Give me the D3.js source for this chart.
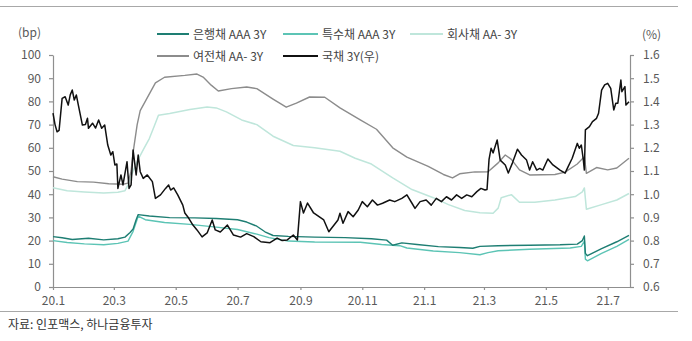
<!DOCTYPE html>
<html><head><meta charset="utf-8">
<script src="https://cdn.jsdelivr.net/npm/d3@7"></script>
<style>
html,body{margin:0;padding:0;background:#fff;}
svg text{font-family:"Noto Sans CJK KR","Noto Sans",sans-serif;}
</style></head>
<body><svg id="c" width="692" height="341"></svg>
<script>
// ---- data ----
const seriesNames = ["은행채 AAA 3Y","특수채 AAA 3Y","회사채 AA- 3Y","여전채 AA- 3Y","국채 3Y(우)"];
const seriesColors = ["#1e7e73","#5cc4b5","#bfe6db","#8c8c8c","#111111"];

const bankDates = ["2020-01-01","2020-01-10","2020-01-20","2020-02-05","2020-02-20","2020-03-05","2020-03-12","2020-03-17","2020-03-20","2020-03-23","2020-03-25","2020-04-05","2020-04-25","2020-05-20","2020-06-10","2020-07-01","2020-07-10","2020-07-20","2020-07-28","2020-08-05","2020-08-20","2020-09-15","2020-10-15","2020-11-10","2020-11-25","2020-12-01","2020-12-10","2020-12-25","2021-01-15","2021-02-05","2021-02-18","2021-02-25","2021-03-15","2021-04-15","2021-05-15","2021-06-01","2021-06-06","2021-06-08","2021-06-09","2021-06-11","2021-06-25","2021-07-10","2021-07-22"];
const bankValues = [21.7,21.2,20.5,21.0,20.3,20.8,21.5,23.5,25,29,31.2,30.6,29.9,29.8,29.5,29.0,28.0,26.2,23.8,22.2,21.8,21.5,21.3,20.8,20.2,18.0,19.0,18.3,17.4,17.0,16.7,17.5,17.8,18.0,18.2,18.5,20.0,22.0,14.5,13.5,16.5,19.5,22.2];

const specDates = ["2020-01-01","2020-01-15","2020-02-01","2020-02-20","2020-03-05","2020-03-15","2020-03-20","2020-03-25","2020-04-01","2020-04-20","2020-05-15","2020-06-10","2020-07-01","2020-07-20","2020-08-01","2020-08-20","2020-09-15","2020-10-30","2020-11-20","2020-12-08","2020-12-15","2021-01-10","2021-02-05","2021-02-25","2021-03-05","2021-03-15","2021-04-15","2021-05-25","2021-06-05","2021-06-08","2021-06-09","2021-06-11","2021-06-25","2021-07-10","2021-07-22"];
const specValues = [20.0,19.2,18.6,18.2,18.8,19.8,24,30.5,29.0,27.8,27,25.8,24.8,22.8,21.3,19.8,19.4,19.3,18.3,17.8,16.8,15.5,14.8,13.9,14.8,15.6,16.3,16.8,17.5,19.8,12.0,11.3,14.5,17.5,20.5];

const corpDates = ["2020-01-01","2020-01-15","2020-02-01","2020-02-20","2020-03-05","2020-03-12","2020-03-15","2020-03-20","2020-03-25","2020-03-31","2020-04-05","2020-04-10","2020-04-14","2020-04-25","2020-05-15","2020-06-01","2020-06-10","2020-06-20","2020-07-05","2020-07-20","2020-08-05","2020-08-25","2020-09-15","2020-10-10","2020-10-25","2020-11-10","2020-12-01","2020-12-20","2021-01-10","2021-01-25","2021-02-10","2021-02-25","2021-03-10","2021-03-15","2021-03-18","2021-03-28","2021-04-05","2021-04-20","2021-05-10","2021-05-30","2021-06-06","2021-06-08","2021-06-10","2021-06-25","2021-07-10","2021-07-22"];
const corpValues = [42.8,41.5,41.0,40.5,40.8,41.5,44,50,55,60,64,69.5,74,74.8,76.5,77.6,77.2,75.5,72,70.0,65,61.0,60.0,58.5,55.5,53,47,42,38.5,35.5,33,32,31.8,34,38.5,39.8,36.5,36.5,37.5,39,41,42.7,33.5,35.5,37.5,40.3];

const cardDates = ["2020-01-01","2020-01-10","2020-01-25","2020-02-10","2020-02-25","2020-03-10","2020-03-15","2020-03-18","2020-03-20","2020-03-24","2020-03-27","2020-04-01","2020-04-06","2020-04-11","2020-04-20","2020-05-10","2020-05-22","2020-05-28","2020-06-05","2020-06-12","2020-06-25","2020-07-10","2020-07-20","2020-08-05","2020-08-18","2020-08-28","2020-09-10","2020-09-25","2020-10-10","2020-10-30","2020-11-15","2020-12-01","2020-12-15","2021-01-05","2021-01-20","2021-01-29","2021-02-05","2021-02-20","2021-03-05","2021-03-15","2021-03-22","2021-03-28","2021-04-05","2021-04-15","2021-05-10","2021-05-20","2021-06-01","2021-06-08","2021-06-10","2021-06-20","2021-07-01","2021-07-10","2021-07-22"];
const cardValues = [47.5,46.5,45.4,45.2,44.5,44.3,44.8,50,58,70,76,80,84,88,90.4,91.2,91.8,90.5,87,84.5,85.5,86.2,85.5,81,77.5,79.3,81.9,81.8,77.2,72,68,60,56,52,48.5,47,48.8,49.6,49.7,53.5,56.9,55,50.5,48.3,48.5,49.5,53,56.2,49,51.5,50.5,51.3,55.5];

const ktbDates = ["2020-01-01","2020-01-03","2020-01-05","2020-01-07","2020-01-10","2020-01-13","2020-01-16","2020-01-18","2020-01-20","2020-01-22","2020-01-24","2020-01-26","2020-01-30","2020-02-02","2020-02-04","2020-02-05","2020-02-09","2020-02-12","2020-02-15","2020-02-18","2020-02-21","2020-02-24","2020-02-27","2020-02-29","2020-03-02","2020-03-04","2020-03-05","2020-03-08","2020-03-10","2020-03-14","2020-03-16","2020-03-18","2020-03-20","2020-03-23","2020-03-25","2020-03-27","2020-03-30","2020-04-03","2020-04-08","2020-04-11","2020-04-16","2020-04-21","2020-04-24","2020-04-26","2020-04-29","2020-05-03","2020-05-08","2020-05-10","2020-05-13","2020-05-18","2020-05-22","2020-05-27","2020-06-01","2020-06-06","2020-06-09","2020-06-14","2020-06-21","2020-06-27","2020-07-04","2020-07-10","2020-07-17","2020-07-24","2020-08-02","2020-08-09","2020-08-14","2020-08-19","2020-08-25","2020-08-29","2020-09-01","2020-09-04","2020-09-08","2020-09-14","2020-09-24","2020-09-29","2020-10-08","2020-10-10","2020-10-13","2020-10-18","2020-10-23","2020-10-28","2020-11-01","2020-11-06","2020-11-11","2020-11-16","2020-11-21","2020-11-28","2020-12-03","2020-12-10","2020-12-15","2020-12-20","2020-12-23","2020-12-28","2021-01-03","2021-01-08","2021-01-13","2021-01-18","2021-01-23","2021-01-28","2021-02-02","2021-02-07","2021-02-12","2021-02-17","2021-02-22","2021-02-26","2021-03-02","2021-03-04","2021-03-06","2021-03-08","2021-03-10","2021-03-14","2021-03-17","2021-03-22","2021-03-25","2021-03-29","2021-04-03","2021-04-07","2021-04-12","2021-04-15","2021-04-18","2021-04-22","2021-04-25","2021-04-28","2021-05-03","2021-05-08","2021-05-15","2021-05-20","2021-05-23","2021-05-27","2021-06-01","2021-06-03","2021-06-05","2021-06-07","2021-06-08","2021-06-09","2021-06-13","2021-06-16","2021-06-20","2021-06-22","2021-06-25","2021-06-28","2021-07-01","2021-07-04","2021-07-07","2021-07-09","2021-07-11","2021-07-14","2021-07-15","2021-07-18","2021-07-19","2021-07-22"];
const ktbValues = [1.349,1.300,1.269,1.275,1.413,1.420,1.384,1.428,1.449,1.406,1.428,1.384,1.298,1.300,1.327,1.284,1.306,1.285,1.320,1.284,1.298,1.212,1.169,1.183,1.126,1.130,1.025,1.083,1.040,1.140,1.025,1.040,1.190,1.083,1.169,1.097,1.068,1.083,1.054,0.982,0.997,1.025,1.040,1.018,1.027,0.997,0.953,0.919,0.902,0.867,0.846,0.816,0.833,0.889,0.846,0.837,0.867,0.824,0.815,0.830,0.817,0.795,0.791,0.811,0.800,0.803,0.824,0.803,0.968,0.919,0.962,0.919,0.889,0.838,0.889,0.918,0.875,0.925,0.903,0.932,0.968,0.946,0.975,0.953,0.961,0.975,0.968,0.982,0.997,0.961,0.939,0.968,0.975,0.953,0.982,0.968,0.989,0.975,0.997,0.982,0.997,0.989,1.011,1.025,1.018,1.020,1.150,1.198,1.178,1.234,1.147,1.126,1.091,1.134,1.194,1.169,1.147,1.104,1.140,1.104,1.111,1.104,1.152,1.126,1.104,1.091,1.119,1.155,1.219,1.198,1.212,1.147,1.104,1.277,1.291,1.313,1.327,1.349,1.449,1.471,1.478,1.456,1.363,1.392,1.392,1.492,1.442,1.464,1.384,1.399];

const leftTicks = [0,10,20,30,40,50,60,70,80,90,100];
const rightTicks = [0.6,0.7,0.8,0.9,1.0,1.1,1.2,1.3,1.4,1.5,1.6];
const rightTickLabels = ["0.6","0.7","0.8","0.9","1.0","1.1","1.2","1.3","1.4","1.5","1.6"];
const xTickDates = ["2020-01-01","2020-03-01","2020-05-01","2020-07-01","2020-09-01","2020-11-01","2021-01-01","2021-03-01","2021-05-01","2021-07-01"];
const xTickLabels = ["20.1","20.3","20.5","20.7","20.9","20.11","21.1","21.3","21.5","21.7"];
const xDomain = ["2020-01-01","2021-07-23"];
const leftUnit = "(bp)", rightUnit = "(%)";
const sourceText = "자료: 인포맥스, 하나금융투자";

// ---- drawing ----
const parse = d3.timeParse("%Y-%m-%d");
const svg = d3.select("#c");
const L = 53, R = 630, T = 55, B = 287;
const x = d3.scaleTime().domain(xDomain.map(parse)).range([L, R]);
const yL = d3.scaleLinear().domain([0, 100]).range([B, T]);
const yR = d3.scaleLinear().domain([0.6, 1.6]).range([B, T]);
const axisColor = "#8f8f8f", textColor = "#595959";

// frame lines
svg.append("line").attr("x1",0).attr("x2",678).attr("y1",6.5).attr("y2",6.5).attr("stroke","#a8a8a8");
svg.append("line").attr("x1",0).attr("x2",678).attr("y1",311.5).attr("y2",311.5).attr("stroke","#a8a8a8");

function styleAxis(g){
  g.selectAll("path.domain").attr("stroke",axisColor).attr("stroke-width",1.2);
  g.selectAll(".tick line").attr("stroke",axisColor).attr("stroke-width",1.2);
  g.selectAll(".tick text").attr("fill",textColor).style("font-size","12px")
    .style("font-family","'Noto Sans CJK KR','Noto Sans',sans-serif");
}

const gL = svg.append("g").attr("transform",`translate(${L},0)`)
  .call(d3.axisLeft(yL).tickValues(leftTicks).tickSize(4).tickSizeOuter(0).tickPadding(8));
styleAxis(gL);
const gR = svg.append("g").attr("transform",`translate(${R},0)`)
  .call(d3.axisRight(yR).tickValues(rightTicks).tickFormat((d,i)=>rightTickLabels[i]).tickSize(4).tickSizeOuter(0).tickPadding(9));
styleAxis(gR);
const gX = svg.append("g").attr("transform",`translate(0,${B})`)
  .call(d3.axisBottom(x).tickValues(xTickDates.map(parse)).tickFormat((d,i)=>xTickLabels[i]).tickSize(3).tickSizeOuter(0).tickPadding(6));
styleAxis(gX);

const leftSeries = [
  {dates:specDates, values:specValues, color:seriesColors[1], w:1.4},
  {dates:bankDates, values:bankValues, color:seriesColors[0], w:1.4},
  {dates:corpDates, values:corpValues, color:seriesColors[2], w:1.5},
  {dates:cardDates, values:cardValues, color:seriesColors[3], w:1.4}
];
const plot = svg.append("g");
leftSeries.forEach(s=>{
  const pts = s.dates.map((d,i)=>[parse(d), s.values[i]]);
  plot.append("path").datum(pts)
    .attr("fill","none").attr("stroke",s.color).attr("stroke-width",s.w).attr("stroke-linejoin","round")
    .attr("d", d3.line().x(p=>x(p[0])).y(p=>yL(p[1])));
});
const ktbPts = ktbDates.map((d,i)=>[parse(d), ktbValues[i]]);
plot.append("path").datum(ktbPts)
  .attr("fill","none").attr("stroke",seriesColors[4]).attr("stroke-width",1.5).attr("stroke-linejoin","round")
  .attr("d", d3.line().x(p=>x(p[0])).y(p=>yR(p[1])));

// unit labels
svg.append("text").attr("x",18).attr("y",37).text(leftUnit).attr("fill",textColor).style("font-size","12px");
svg.append("text").attr("x",642).attr("y",39).text(rightUnit).attr("fill",textColor).style("font-size","12px");

// legend
const legPos = [[157,34],[283,34],[410,34],[157,56],[283,56]];
const legLen = [32,35,33,32,35];
seriesNames.forEach((n,i)=>{
  const [lx,ly] = legPos[i];
  svg.append("line").attr("x1",lx).attr("x2",lx+legLen[i]).attr("y1",ly).attr("y2",ly)
    .attr("stroke",seriesColors[i]).attr("stroke-width",2);
  svg.append("text").attr("x",lx+legLen[i]+4).attr("y",ly+4.5).text(n)
    .attr("fill","#444").style("font-size","12px");
});

// source
svg.append("text").attr("x",8).attr("y",329).text(sourceText).attr("fill","#333").style("font-size","12px");
</script></body></html>
